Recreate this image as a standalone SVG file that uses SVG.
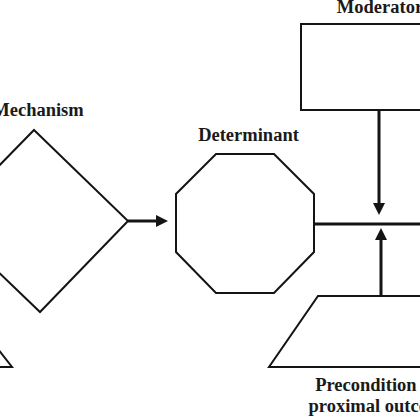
<svg xmlns="http://www.w3.org/2000/svg" width="420" height="420" viewBox="0 0 420 420">
<style>
.shape{fill:#fff;stroke:#141414;stroke-width:2;stroke-linejoin:miter}
.conn{fill:none;stroke:#141414;stroke-width:3}
.lbl{font-family:"Liberation Serif","Times New Roman",serif;font-weight:bold;font-size:18.5px;fill:#1a1a1a}
</style>
<defs>
<marker id="ah" markerUnits="userSpaceOnUse" markerWidth="12" markerHeight="12" refX="2" refY="6" orient="auto">
<path d="M0,0 L12,6 L0,12 z" fill="#141414"/>
</marker>
</defs>
<rect width="420" height="420" fill="#fff"/>
<g id="mechanism">
<polygon class="shape" points="34,130 128,221 40,312 -55,221"/>
<text class="lbl" x="38" y="116" text-anchor="middle">Mechanism</text>
</g>
<g id="determinant">
<polygon class="shape" points="216,154 274,154 314,194 314,252 274,293 216,293 176,252 176,194"/>
<text class="lbl" x="248.5" y="141" text-anchor="middle">Determinant</text>
</g>
<g id="moderator">
<rect class="shape" x="301" y="24" width="160" height="86"/>
<text class="lbl" x="380" y="13" text-anchor="middle">Moderator</text>
</g>
<g id="precondition">
<polygon class="shape" points="318,296 450,296 500,367 269,367"/>
<text class="lbl" x="380" y="391" text-anchor="middle">Precondition for</text>
<text class="lbl" x="380" y="412" text-anchor="middle">proximal outcome</text>
</g>
<g id="triangle">
<polygon class="shape" points="-30,313 12,367 -80,367"/>
</g>
<g id="connectors">
<line class="conn" x1="128" y1="221" x2="158" y2="221" marker-end="url(#ah)"/>
<line class="conn" x1="379" y1="110" x2="379" y2="205" marker-end="url(#ah)"/>
<line class="conn" x1="381" y1="296" x2="381" y2="238" marker-end="url(#ah)"/>
<line class="conn" x1="314" y1="224" x2="420" y2="224"/>
</g>
</svg>
